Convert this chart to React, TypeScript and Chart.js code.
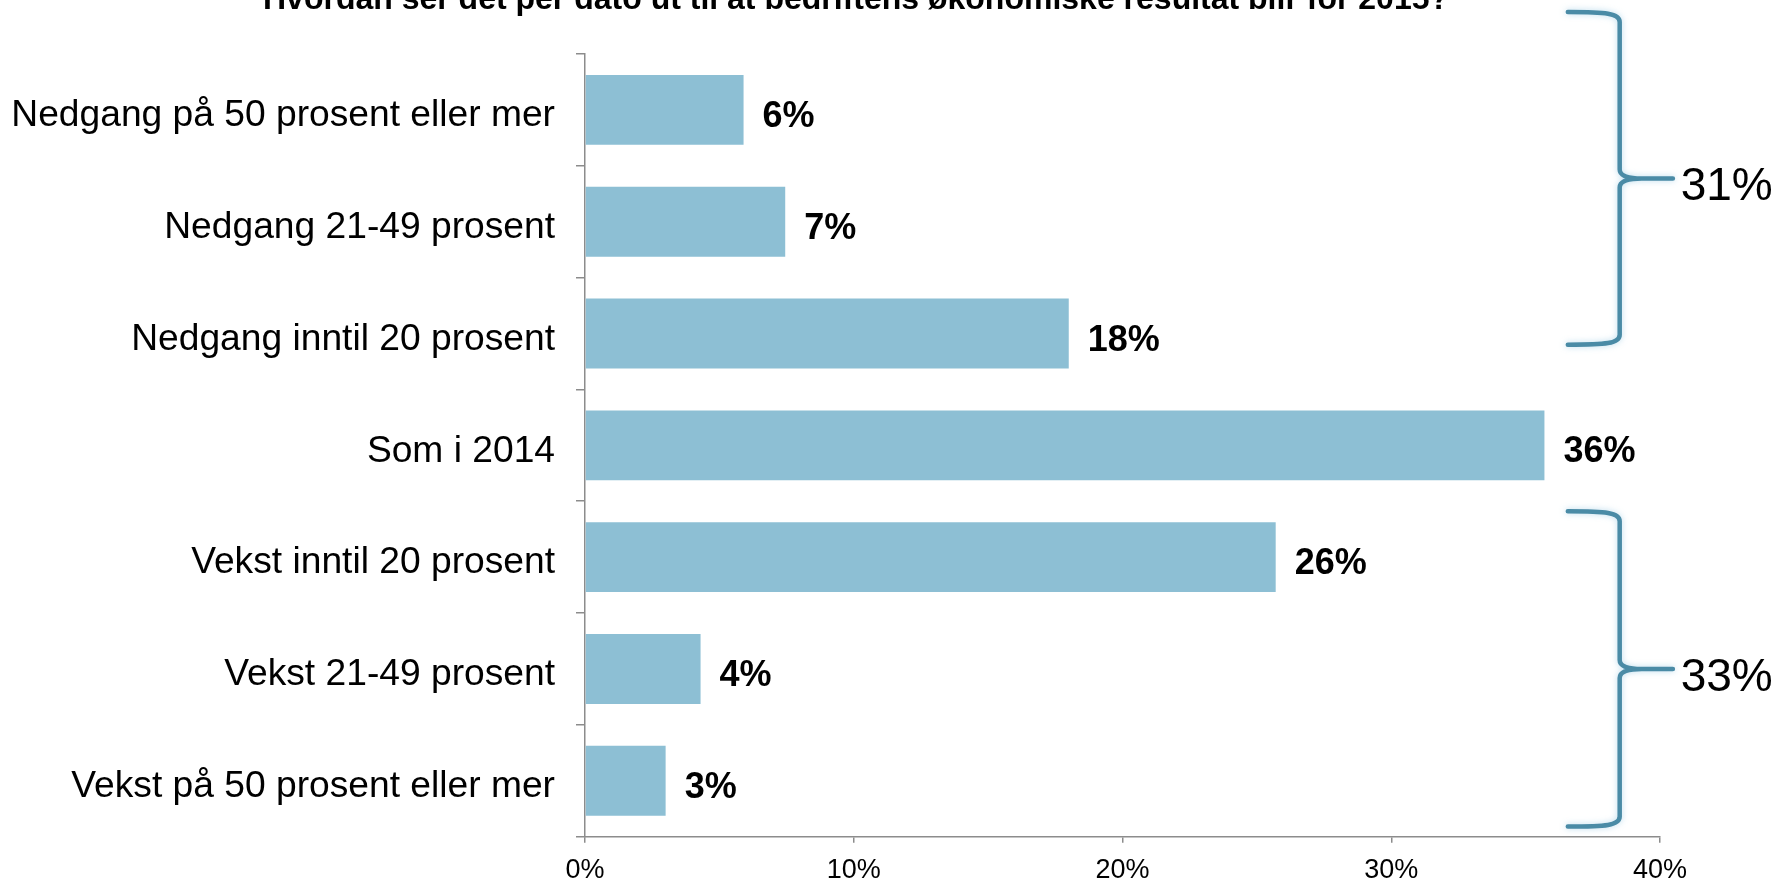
import React, { useEffect, useRef } from 'react';
import { Chart, registerables } from 'chart.js';

Chart.register(...registerables);

const FONT = '"Liberation Sans", Arial, Helvetica, sans-serif';

const TITLE = 'Hvordan ser det per dato ut til at bedriftens økonomiske resultat blir for 2015?';

const categories = [
  'Nedgang på 50 prosent eller mer',
  'Nedgang 21-49 prosent',
  'Nedgang inntil 20 prosent',
  'Som i 2014',
  'Vekst inntil 20 prosent',
  'Vekst 21-49 prosent',
  'Vekst på 50 prosent eller mer',
];

const values = [5.9, 7.45, 18.0, 35.7, 25.7, 4.3, 3.0];
const valueLabels = ['6%', '7%', '18%', '36%', '26%', '4%', '3%'];

const xTicks = [0, 10, 20, 30, 40];

// Brace annotations: span in category-index units, and the total they show
const braceSpans = [
  [-0.875, 2.1],
  [3.59, 6.41],
];
const braceTotals = ['31%', '33%'];

const BAR_COLOR = '#8dbfd4';
const BRACE_COLOR = '#4a8ba6';
const AXIS_COLOR = '#8c8c8c';

export default function App() {
  const canvasRef = useRef<HTMLCanvasElement | null>(null);

  useEffect(() => {
    const canvas = canvasRef.current;
    if (!canvas) return;

    const titlePlugin = {
      id: 'customTitle',
      afterDraw(chart: any) {
        const ctx = chart.ctx;
        ctx.save();
        ctx.fillStyle = '#000';
        ctx.font = `bold 32px ${FONT}`;
        ctx.textAlign = 'center';
        ctx.textBaseline = 'alphabetic';
        ctx.fillText(TITLE, 856, 9);
        ctx.restore();
      },
    };

    const valueLabelPlugin = {
      id: 'valueLabels',
      afterDatasetsDraw(chart: any) {
        const ctx = chart.ctx;
        const meta = chart.getDatasetMeta(0);
        ctx.save();
        ctx.fillStyle = '#000';
        ctx.font = `bold 36px ${FONT}`;
        ctx.textAlign = 'left';
        ctx.textBaseline = 'alphabetic';
        meta.data.forEach((bar: any, i: number) => {
          ctx.fillText(valueLabels[i], bar.x + 19, bar.y + 17);
        });
        ctx.restore();
      },
    };

    const bracePlugin = {
      id: 'braces',
      afterDraw(chart: any) {
        const ctx = chart.ctx;
        const xs = chart.scales.x;
        const ys = chart.scales.y;
        const xEnd = xs.getPixelForValue(36.57);
        const xv = xs.getPixelForValue(38.5);
        const xTip = xs.getPixelForValue(40.48);
        const xText = xs.getPixelForValue(40.77);
        braceSpans.forEach((span, i) => {
          const yTop = ys.getPixelForValue(span[0]);
          const yBot = ys.getPixelForValue(span[1]);
          const yMid = (yTop + yBot) / 2;
          ctx.save();
          ctx.strokeStyle = BRACE_COLOR;
          ctx.lineWidth = 4.5;
          ctx.lineCap = 'round';
          ctx.lineJoin = 'round';
          ctx.shadowColor = 'rgba(160, 205, 230, 0.7)';
          ctx.shadowBlur = 6;
          ctx.beginPath();
          ctx.moveTo(xEnd, yTop);
          ctx.bezierCurveTo(xEnd + 38, yTop, xv, yTop + 1, xv, yTop + 10);
          ctx.lineTo(xv, yMid - 9);
          ctx.bezierCurveTo(xv, yMid - 2, xv + 10, yMid, xv + 22, yMid);
          ctx.lineTo(xTip, yMid);
          ctx.moveTo(xv + 22, yMid);
          ctx.bezierCurveTo(xv + 10, yMid, xv, yMid + 2, xv, yMid + 9);
          ctx.lineTo(xv, yBot - 10);
          ctx.bezierCurveTo(xv, yBot - 1, xEnd + 38, yBot, xEnd, yBot);
          ctx.stroke();
          ctx.restore();

          ctx.save();
          ctx.fillStyle = '#000';
          ctx.font = `46px ${FONT}`;
          ctx.textAlign = 'left';
          ctx.textBaseline = 'alphabetic';
          ctx.fillText(braceTotals[i], xText, yMid + 5 + 17);
          ctx.restore();
        });
      },
    };

    const chart = new Chart(canvas, {
      type: 'bar',
      data: {
        labels: categories,
        datasets: [
          {
            data: values,
            backgroundColor: BAR_COLOR,
            borderWidth: 0,
            barPercentage: 0.625,
            categoryPercentage: 1,
          },
        ],
      },
      options: {
        indexAxis: 'y',
        animation: false,
        responsive: true,
        maintainAspectRatio: false,
        layout: { padding: { top: 54, right: 119, left: 0, bottom: 0 } },
        plugins: {
          legend: { display: false },
          tooltip: { enabled: false },
          title: { display: false },
        },
        scales: {
          x: {
            type: 'linear',
            min: 0,
            max: 40,
            afterBuildTicks: (s: any) => {
              s.ticks = xTicks.map((v) => ({ value: v }));
            },
            ticks: {
              color: '#000',
              font: { size: 27, family: FONT },
              padding: 12,
              maxRotation: 0,
              callback: (v: any) => `${v}%`,
            },
            grid: {
              drawOnChartArea: false,
              drawTicks: true,
              tickLength: 6,
              color: AXIS_COLOR,
              lineWidth: 1.5,
            },
            border: { display: true, color: AXIS_COLOR, width: 1.5 },
            afterFit: (s: any) => {
              s.height = 43;
            },
          },
          y: {
            type: 'category',
            ticks: {
              color: '#000',
              font: { size: 37.2, family: FONT },
              padding: 21,
              labelOffset: 6,
              autoSkip: false,
            },
            grid: {
              offset: true,
              drawOnChartArea: false,
              drawTicks: true,
              tickLength: 9,
              color: AXIS_COLOR,
              lineWidth: 1.5,
            },
            border: { display: true, color: AXIS_COLOR, width: 1.5 },
            afterFit: (s: any) => {
              s.width = 585;
            },
          },
        },
      },
      plugins: [valueLabelPlugin, bracePlugin, titlePlugin],
    });

    return () => {
      chart.destroy();
    };
  }, []);

  return (
    <div
      style={{
        position: 'absolute',
        left: 0,
        top: 0,
        width: '1779px',
        height: '880px',
        background: '#fff',
      }}
    >
      <canvas ref={canvasRef} />
    </div>
  );
}
